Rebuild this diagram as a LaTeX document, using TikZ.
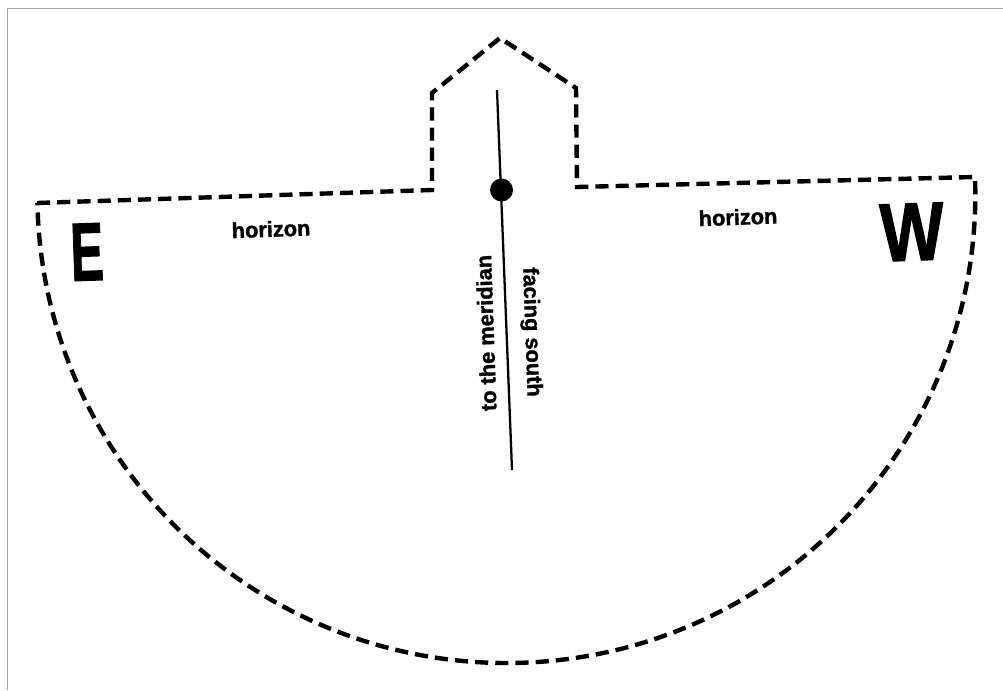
\documentclass[tikz,border=0pt]{standalone}
\usepackage{fontspec}
\setmainfont{Liberation Sans}
\newfontfamily\heavyfont{Liberation Sans Bold}[FakeBold=1.5]
\begin{document}
\begin{tikzpicture}[x=0.02cm, y=0.02cm,
    cutline/.style={line width=2.5pt, dash pattern=on 7.5pt off 4pt},
    label/.style={font=\heavyfont\fontsize{12.4}{14}\selectfont, inner sep=0pt},
    letter/.style={font=\heavyfont\fontsize{47}{50}\selectfont, inner sep=0pt}]
    \useasboundingbox (0,0) rectangle (1003,-690);

    % Frame
    \draw[gray!70, line width=0.8pt] (7.5,-690) -- (7.5,-8.5) -- (1003,-8.5);

    % Outline
    \draw[cutline] (37,-203) -- (432,-190) -- (432,-93) -- (500,-38)
        -- (576,-88) -- (577,-187) -- (975,-177)
        arc[start angle=2.08, end angle=-178.9, radius=469] -- cycle;

    % Meridian
    \coordinate (top) at (497,-90);
    \coordinate (bottom) at (512,-470);
    \draw[line width=1.3pt] (top) -- (bottom);
    \fill (501.5,-190) circle (11.5);

    % Labels
    \node[label, rotate=2] (horizonE) at (271,-229) {horizon};
    \node[label, rotate=2] (horizonW) at (738,-217) {horizon};
    \node[label, rotate=92] (meridian) at (486,-333) {to the meridian};
    \node[label, rotate=-88] (south) at (531,-332) {facing south};
    \node[letter, rotate=2] (east) at (87,-252) {\scalebox{0.6}[1]{E}};
    \node[letter, rotate=2] (west) at (912,-232) {\scalebox{0.82}[1]{W}};
\end{tikzpicture}
\end{document}
